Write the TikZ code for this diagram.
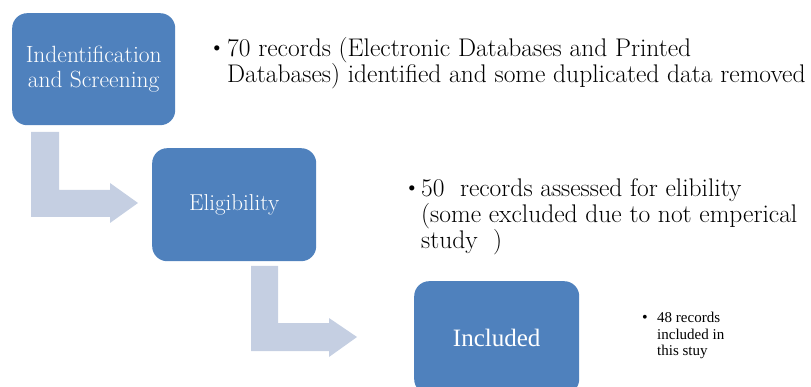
\documentclass[tikz,border=0pt]{standalone}
\usepackage{fontspec}
\newfontfamily\cambria{Liberation Serif}
\definecolor{stepblue}{HTML}{4F81BD}
\definecolor{bendgray}{HTML}{C5CFE2}
\tikzset{
  stagebox/.style={fill=stepblue, draw=none, rounded corners=15pt, anchor=north west,
    text=white, align=center, inner sep=0pt},
  bendarrow/.style={fill=bendgray, draw=none},
  noteline/.style={anchor=base west, inner sep=0pt, text=black},
  bignote/.style={noteline, font=\fontsize{25.5}{26}\selectfont},
  smallnote/.style={noteline, font=\cambria\fontsize{15}{15.5}\selectfont},
  dot/.style={inner sep=0pt, text=black}
}
\begin{document}
\begin{tikzpicture}[x=1pt, y=-1pt]
\useasboundingbox (0,0) rectangle (811,387);
\clip (0,0) rectangle (811,387);

% stage boxes
\node[stagebox, minimum width=163pt, minimum height=112pt,
  font=\fontsize{23.5}{25}\selectfont] (b1) at (12,13) {Indentification\\and Screening};
\node[stagebox, minimum width=164pt, minimum height=113pt,
  font=\fontsize{23}{25}\selectfont] (b2) at (152,148) {Eligibility};
\node[stagebox, minimum width=165pt, minimum height=113pt,
  font=\cambria\fontsize{25}{26}\selectfont] (b3) at (414,281) {Included};

% bent arrows between the stages
\fill[bendarrow] (31,132) -- (59,132) -- (59,190) -- (110,190) -- (110,183)
  -- (138,203) -- (110,223) -- (110,217) -- (31,217) -- cycle;
\fill[bendarrow] (251,266) -- (278,266) -- (278,323) -- (329,323) -- (329,318)
  -- (357,337) -- (329,357) -- (329,351) -- (251,351) -- cycle;

% notes beside each stage
\node[dot, font=\fontsize{23}{23}\selectfont] (d1) at (217,50) {\textbullet};
\node[bignote] (t1a) at (227,57) {70 records (Electronic Databases and Printed};
\node[bignote] (t1b) at (227,83) {Databases) identified and some duplicated data removed};

\node[dot, font=\fontsize{23}{23}\selectfont] (d2) at (412,190) {\textbullet};
\node[bignote] (t2a) at (421,197) {50\ \ records assessed for elibility};
\node[bignote] (t2b) at (421,223) {(some excluded due to not emperical};
\node[bignote] (t2c) at (421,249) {study\ \ )};

\node[dot, font=\cambria\fontsize{16}{16}\selectfont] (d3) at (645,319) {\textbullet};
\node[smallnote] (t3a) at (657,323) {48 records};
\node[smallnote] (t3b) at (657,339) {included in};
\node[smallnote] (t3c) at (657,355) {this stuy};
\end{tikzpicture}
\end{document}
